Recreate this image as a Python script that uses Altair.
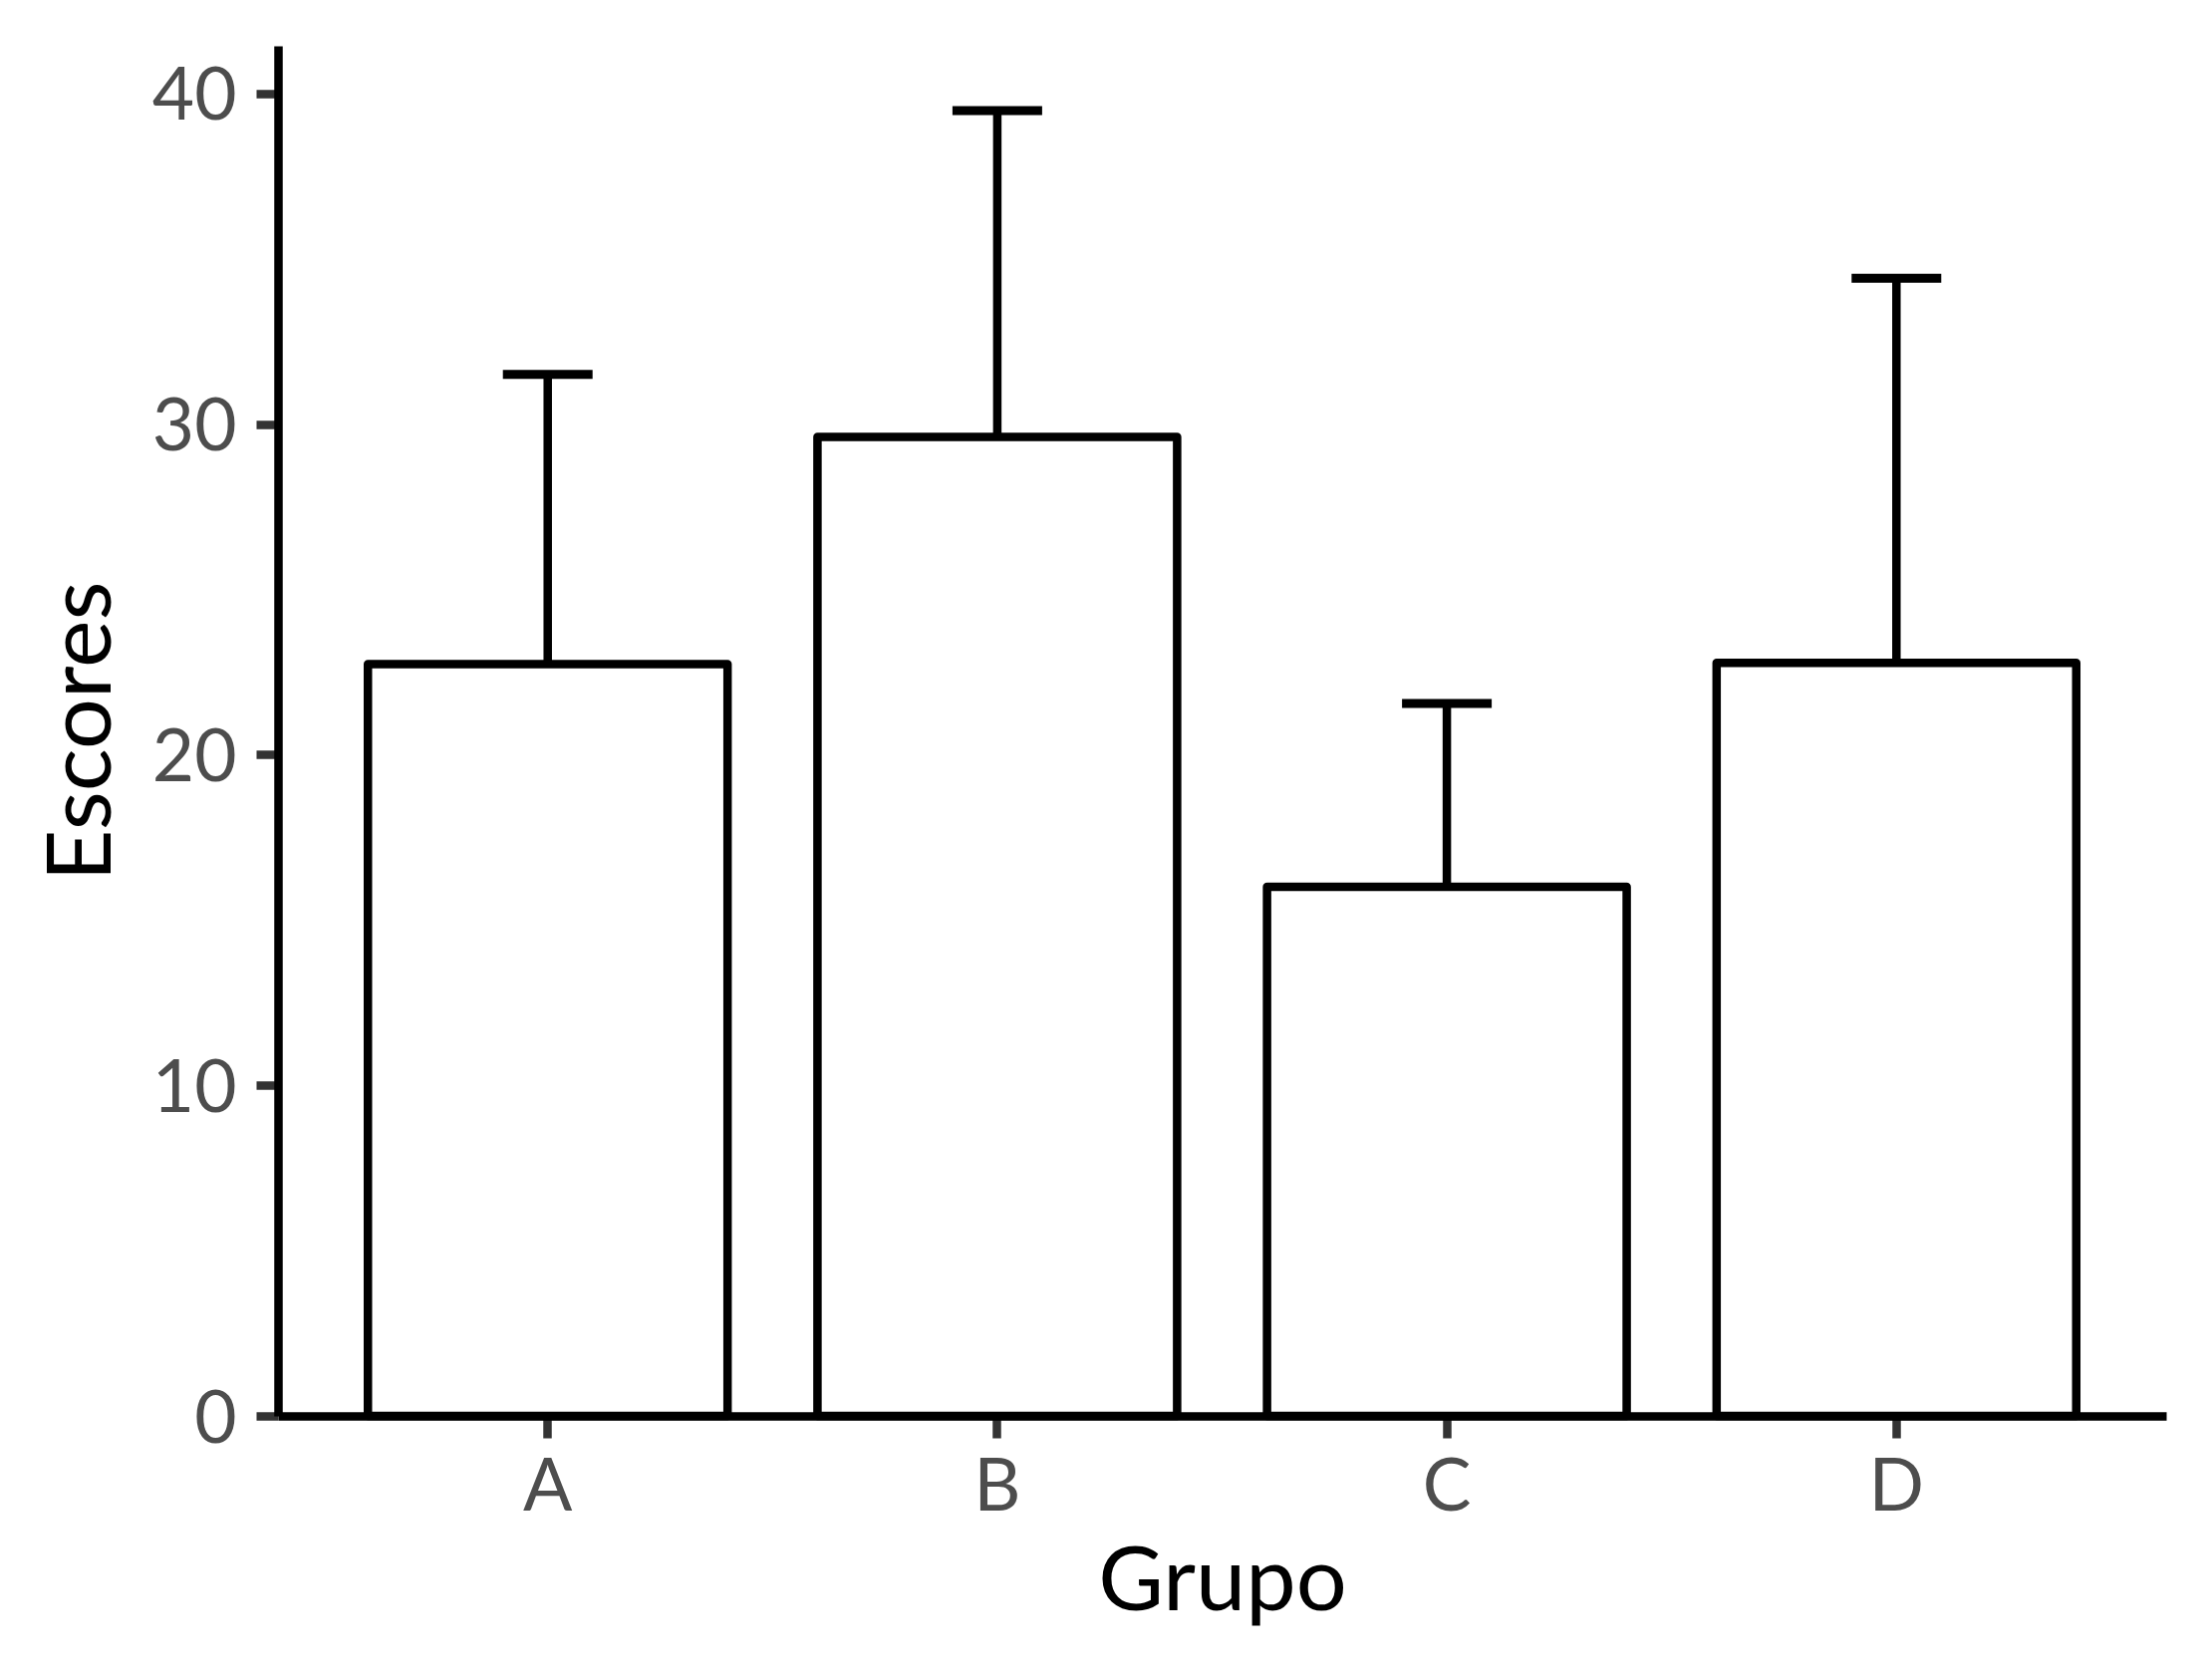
import altair as alt
import pandas as pd

grupos = ["A", "B", "C", "D"]
medias = [22.74, 29.61, 16.00, 22.78]
limites_sup = [31.50, 39.48, 21.55, 34.41]
y_ticks = [0, 10, 20, 30, 40]

df = pd.DataFrame({"Grupo": grupos, "Escores": medias, "Superior": limites_sup})

FONT = "Lato"
LW = 8.5

x_axis = alt.Axis(
    domain=True, domainColor="black", domainWidth=LW,
    ticks=True, tickColor="#333333", tickWidth=LW, tickSize=22,
    labelFont=FONT, labelFontSize=73, labelColor="#4D4D4D", labelPadding=14, labelAngle=0,
    titleFont=FONT, titleFontSize=90, titleColor="black", titleFontWeight="normal",
    titleX=947.5, titleY=194.5, titleBaseline="alphabetic", titleAlign="center",
    grid=False,
)
y_axis = alt.Axis(
    values=y_ticks,
    domain=True, domainColor="black", domainWidth=LW,
    ticks=True, tickColor="#333333", tickWidth=LW, tickSize=22,
    labelFont=FONT, labelFontSize=73, labelColor="#4D4D4D", labelPadding=20,
    labelBaseline="middle", labelOffset=4,
    titleFont=FONT, titleFontSize=90, titleColor="black", titleFontWeight="normal",
    titleAngle=270, titleX=-169, titleY=687.5, titleBaseline="alphabetic", titleAlign="center",
    grid=False,
)

x_enc = alt.X("Grupo:N", sort=grupos,
              scale=alt.Scale(type="band", paddingInner=0.2, paddingOuter=0.2),
              axis=x_axis, title="Grupo")
y_scale = alt.Scale(domain=[0, 41.44], nice=False, zero=True)

base = alt.Chart(df)

bars = base.mark_bar(fill="white", stroke="black", strokeWidth=LW, strokeJoin="round").encode(
    x=x_enc,
    y=alt.Y("Escores:Q", scale=y_scale, axis=y_axis, title="Escores"),
)

rule = base.mark_rule(color="black", strokeWidth=LW).encode(
    x=x_enc,
    y=alt.Y("Escores:Q", scale=y_scale, axis=y_axis, title="Escores"),
    y2="Superior:Q",
)

cap = base.mark_tick(orient="horizontal", size=90, thickness=9, color="black", opacity=1).encode(
    x=x_enc,
    y=alt.Y("Superior:Q", scale=y_scale, axis=y_axis, title="Escores"),
)

chart = alt.layer(bars, rule, cap).properties(
    width=1895,
    height=1375,
    autosize=alt.AutoSizeParams(type="none"),
    padding={"left": 271, "top": 38, "right": 20, "bottom": 220},
    background="white",
).configure_view(strokeWidth=0)

chart.save("out.html", embed_options={"renderer": "svg", "actions": False})
